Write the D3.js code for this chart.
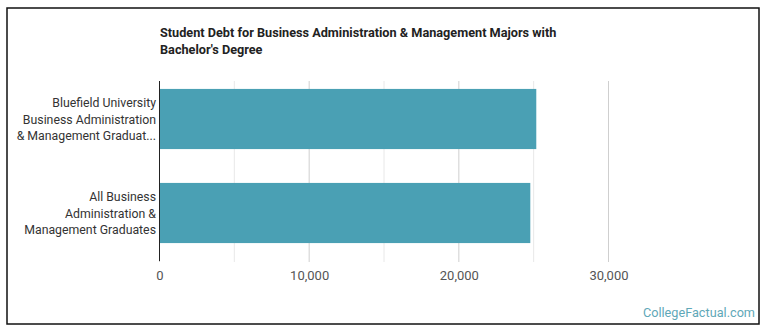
<!DOCTYPE html>
<html><head><meta charset="utf-8">
<script src="https://cdn.jsdelivr.net/npm/d3@7"></script>
<style>body{margin:0;background:#fff;} svg{display:block;}</style>
</head><body>
<svg id="chart" width="770" height="335"></svg>
<script>
const categories = [
  ["Bluefield University", "Business Administration", "& Management Graduat..."],
  ["All Business", "Administration &", "Management Graduates"]
];
const values = [25175, 24775];
const tickValues = [0, 10000, 20000, 30000];
const gridValues = [0, 5000, 10000, 15000, 20000, 25000, 30000];
const titleLines = ["Student Debt for Business Administration & Management Majors with", "Bachelor's Degree"];

const svg = d3.select("#chart");
svg.append("rect").attr("x", 7).attr("y", 8).attr("width", 752).attr("height", 316)
  .attr("fill", "#fff").attr("stroke", "#111").attr("stroke-width", 1.5);

const x = d3.scaleLinear().domain([0, 30000]).range([159.5, 608.5]);
const y = d3.scaleBand().domain(d3.range(categories.length)).range([72, 260])
  .paddingInner(0.36).paddingOuter(0.18);

const font = "Roboto, 'Liberation Sans', sans-serif";

svg.append("g").selectAll("line").data(gridValues).join("line")
  .attr("x1", d => x(d)).attr("x2", d => x(d)).attr("y1", 81).attr("y2", 262)
  .attr("stroke", d => d % 10000 === 0 ? "#cfcfcf" : "#e8e8e8").attr("stroke-width", 1);

svg.append("g").selectAll("rect").data(values).join("rect")
  .attr("x", x(0)).attr("y", (d, i) => y(i)).attr("width", d => x(d) - x(0))
  .attr("height", y.bandwidth()).attr("fill", "#4aa0b4");

svg.append("line").attr("x1", x(0)).attr("x2", x(0)).attr("y1", 81).attr("y2", 261)
  .attr("stroke", "#222").attr("stroke-width", 1);

const xAxis = d3.axisBottom(x).tickValues(tickValues).tickSize(0).tickFormat(d3.format(","));
const gx = svg.append("g").attr("transform", "translate(0,268)").call(xAxis);
gx.select(".domain").remove();
gx.selectAll("text").attr("font-family", font).attr("font-size", 13).attr("fill", "#555");

const labels = svg.append("g");
categories.forEach((lines, i) => {
  const cy = y(i) + y.bandwidth() / 2;
  const t = labels.append("text").attr("text-anchor", "end").attr("font-family", font)
    .attr("font-size", 12.3).attr("fill", "#333");
  lines.forEach((l, j) => {
    t.append("tspan").attr("x", 156).attr("y", cy + (j - 1) * 16.5 + 4.5).text(l);
  });
});

const title = svg.append("text").attr("font-family", font).attr("font-weight", "bold")
  .attr("font-size", 12.7).attr("fill", "#222");
titleLines.forEach((l, j) => {
  title.append("tspan").attr("x", 160).attr("y", 37 + j * 17).text(l);
});

svg.append("text").attr("x", 755).attr("y", 317).attr("text-anchor", "end")
  .attr("font-family", font).attr("font-size", 12.7).attr("fill", "#5fa8b8").text("CollegeFactual.com");
</script>
</body></html>
